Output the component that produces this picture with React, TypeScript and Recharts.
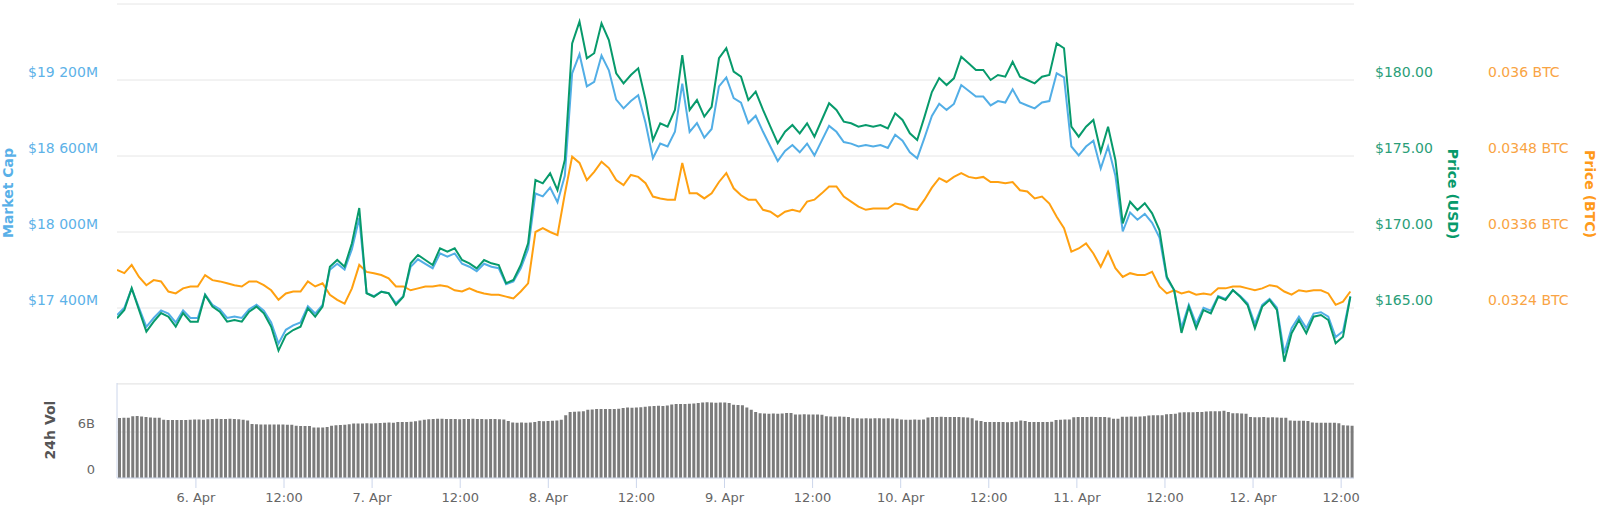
import { LineChart, Line, BarChart, Bar, XAxis, YAxis, CartesianGrid } from 'recharts'

// Hours counted from 5 Apr 00:00; the view runs from ~13:15 on 5 Apr to ~13:45 on 12 Apr.
const START = 13.25
const END = 181.75

const TIME_TICKS = [24, 36, 48, 60, 72, 84, 96, 108, 120, 132, 144, 156, 168, 180]
const TIME_LABELS = [
  '6. Apr', '12:00', '7. Apr', '12:00', '8. Apr', '12:00', '9. Apr',
  '12:00', '10. Apr', '12:00', '11. Apr', '12:00', '12. Apr', '12:00',
]

const CAP_TICKS = [16800, 17400, 18000, 18600, 19200, 19800]
const USD_TICKS = [160, 165, 170, 175, 180, 185]
const BTC_TICKS = [0.0312, 0.0324, 0.0336, 0.0348, 0.036, 0.0372]
const VOL_TICKS = [0, 6]

// hourly samples
const priceUsd = [
  164.32, 164.87, 166.3, 164.87, 163.44, 164.1, 164.67, 164.43, 163.77, 164.67,
  164.1, 164.1, 165.86, 165.09, 164.76, 164.1, 164.21, 164.1, 164.76, 165.09,
  164.65, 163.77, 162.2, 163.22, 163.55, 163.77, 164.98, 164.43, 165.09, 167.72,
  168.16, 167.72, 169.26, 171.58, 165.97, 165.74, 166.07, 165.97, 165.2, 165.74,
  167.94, 168.49, 168.16, 167.83, 168.93, 168.7, 168.93, 168.16, 167.94, 167.61,
  168.16, 167.94, 167.83, 166.63, 166.84, 167.83, 169.26, 173.42, 173.2, 173.86,
  172.76, 174.74, 182.41, 183.84, 181.43, 181.76, 183.73, 182.63, 180.44, 179.78,
  180.33, 180.77, 178.68, 176.05, 177.15, 176.93, 178.03, 181.64, 178.03, 178.68,
  177.59, 178.24, 181.43, 182.09, 180.55, 180.22, 178.68, 179.23, 178.03, 176.93,
  175.84, 176.6, 177.04, 176.49, 177.15, 176.27, 177.37, 178.47, 178.03, 177.26,
  177.15, 176.93, 177.04, 176.93, 177.04, 176.82, 177.81, 177.37, 176.49, 176.05,
  177.59, 179.21, 180.13, 179.67, 180.11, 181.53, 181.1, 180.66, 180.66, 180.0,
  180.33, 180.22, 181.2, 180.22, 180.0, 179.78, 180.22, 180.33, 182.41, 182.09,
  176.93, 176.27, 176.93, 177.37, 175.28, 176.93, 174.74, 170.57, 171.99, 171.45,
  171.89, 171.23, 170.13, 167.06, 166.18, 163.36, 165.09, 163.66, 164.87, 164.65,
  165.74, 165.53, 166.18, 165.74, 165.2, 163.66, 165.09, 165.53, 164.87, 161.47,
  163.34, 164.21, 163.34, 164.43, 164.54, 164.21, 162.68, 163.11, 165.74,
]

// $M
const marketCap = [
  17344, 17402, 17553, 17402, 17251, 17321, 17381, 17356, 17286, 17381,
  17321, 17321, 17507, 17425, 17390, 17321, 17332, 17321, 17390, 17425,
  17379, 17286, 17120, 17228, 17263, 17286, 17414, 17356, 17425, 17703,
  17749, 17703, 17865, 18110, 17518, 17494, 17529, 17518, 17437, 17494,
  17726, 17784, 17749, 17714, 17831, 17806, 17831, 17749, 17726, 17691,
  17749, 17726, 17714, 17588, 17610, 17714, 17865, 18304, 18281, 18351,
  18235, 18444, 19253, 19404, 19150, 19185, 19393, 19277, 19045, 18976,
  19034, 19080, 18860, 18582, 18698, 18675, 18791, 19172, 18791, 18860,
  18745, 18813, 19150, 19220, 19057, 19022, 18860, 18918, 18791, 18675,
  18560, 18640, 18687, 18629, 18698, 18605, 18721, 18838, 18791, 18710,
  18698, 18675, 18687, 18675, 18687, 18663, 18768, 18721, 18629, 18582,
  18745, 18916, 19013, 18964, 19011, 19160, 19115, 19069, 19069, 18999,
  19034, 19022, 19126, 19022, 18999, 18976, 19022, 19034, 19253, 19220,
  18675, 18605, 18675, 18721, 18501, 18675, 18444, 18004, 18154, 18097,
  18143, 18073, 17957, 17633, 17540, 17243, 17425, 17274, 17402, 17379,
  17494, 17472, 17540, 17494, 17437, 17274, 17425, 17472, 17402, 17043,
  17241, 17332, 17241, 17356, 17367, 17332, 17171, 17216, 17494,
]

const priceBtc = [
  0.033, 0.03295, 0.03308, 0.03289, 0.03276, 0.03284, 0.03282, 0.03266, 0.03263, 0.03271,
  0.03274, 0.03274, 0.03292, 0.03284, 0.03282, 0.03279, 0.03276, 0.03274, 0.03282, 0.03282,
  0.03276, 0.03268, 0.03253, 0.03263, 0.03266, 0.03266, 0.03282, 0.03274, 0.03279, 0.03261,
  0.03253, 0.03247, 0.03271, 0.03308, 0.03297, 0.03295, 0.03292, 0.03287, 0.03274, 0.03274,
  0.03268, 0.03271, 0.03274, 0.03274, 0.03276, 0.03274, 0.03268, 0.03266, 0.03271, 0.03266,
  0.03263, 0.03261, 0.03261, 0.03258, 0.03255, 0.03266, 0.03279, 0.0336, 0.03366, 0.0336,
  0.03355, 0.0342, 0.03479, 0.03469, 0.03442, 0.03455, 0.03471, 0.03461, 0.03442, 0.03434,
  0.0345, 0.03447, 0.03437, 0.03416, 0.03413, 0.03411, 0.03411, 0.03469, 0.03421, 0.03421,
  0.03413, 0.03421, 0.03439, 0.03453, 0.03429, 0.03418, 0.03411, 0.03411, 0.03395, 0.03392,
  0.03384, 0.03392, 0.03395, 0.03392, 0.03408, 0.03411, 0.03421, 0.03432, 0.03432, 0.03416,
  0.03408, 0.034, 0.03395, 0.03397, 0.03397, 0.03397, 0.03405, 0.03403, 0.03397, 0.03395,
  0.03411, 0.0343, 0.03445, 0.03439, 0.03447, 0.03453, 0.03447, 0.03445, 0.03447, 0.03439,
  0.03439, 0.03437, 0.03439, 0.03426, 0.03424, 0.03413, 0.03416, 0.03405, 0.03384, 0.03366,
  0.03329, 0.03334, 0.03342, 0.03326, 0.03305, 0.03329, 0.03303, 0.03289, 0.03295, 0.03292,
  0.03292, 0.03297, 0.03274, 0.03263, 0.03268, 0.03263, 0.03266, 0.03261, 0.03263, 0.03261,
  0.03271, 0.03271, 0.03274, 0.03274, 0.03271, 0.03268, 0.03271, 0.03276, 0.03274, 0.03266,
  0.03261, 0.03268, 0.03266, 0.03268, 0.03268, 0.03263, 0.03245, 0.0325, 0.03266,
]

// 24h volume, billions of USD
const volume = [
  7.83, 7.85, 7.86, 8.05, 8.1, 8.02, 7.95, 7.9, 7.88, 7.85,
  7.6, 7.58, 7.57, 7.56, 7.57, 7.58, 7.6, 7.62, 7.62, 7.6,
  7.68, 7.7, 7.72, 7.7, 7.7, 7.72, 7.7, 7.68, 7.6, 7.5,
  7.05, 7.0, 6.98, 6.98, 6.98, 6.98, 6.98, 6.97, 6.96, 6.95,
  6.82, 6.8, 6.8, 6.78, 6.6, 6.58, 6.6, 6.65, 6.82, 6.9,
  6.92, 6.95, 7.0, 7.1, 7.1, 7.12, 7.15, 7.12, 7.15, 7.18,
  7.2, 7.25, 7.22, 7.3, 7.3, 7.32, 7.35, 7.4, 7.5, 7.6,
  7.68, 7.7, 7.72, 7.72, 7.7, 7.7, 7.7, 7.68, 7.7, 7.7,
  7.72, 7.7, 7.7, 7.68, 7.7, 7.7, 7.66, 7.62, 7.45, 7.25,
  7.22, 7.24, 7.22, 7.25, 7.3, 7.45, 7.4, 7.44, 7.46, 7.5,
  7.6, 8.2, 8.6, 8.65, 8.68, 8.7, 8.9, 8.95, 9.0, 9.0,
  9.0, 9.02, 9.0, 9.05, 9.15, 9.2, 9.18, 9.2, 9.25, 9.3,
  9.38, 9.4, 9.42, 9.4, 9.45, 9.6, 9.65, 9.66, 9.65, 9.7,
  9.72, 9.8, 9.85, 9.88, 9.85, 9.82, 9.85, 9.86, 9.8, 9.55,
  9.52, 9.5, 9.2, 8.9, 8.6, 8.45, 8.42, 8.4, 8.42, 8.4,
  8.42, 8.48, 8.5, 8.3, 8.28, 8.32, 8.3, 8.28, 8.3, 8.25,
  8.05, 8.02, 8.0, 8.02, 8.0, 7.95, 7.8, 7.8, 7.78, 7.8,
  7.78, 7.8, 7.8, 7.78, 7.8, 7.78, 7.75, 7.62, 7.6, 7.6,
  7.62, 7.6, 7.65, 7.9, 7.95, 7.96, 7.98, 7.96, 7.95, 7.96,
  7.95, 7.92, 7.9, 7.8, 7.5, 7.45, 7.32, 7.3, 7.3, 7.32,
  7.3, 7.28, 7.3, 7.35, 7.5, 7.45, 7.32, 7.3, 7.3, 7.32,
  7.3, 7.35, 7.58, 7.6, 7.62, 7.65, 7.92, 7.95, 7.96, 7.95,
  7.98, 7.96, 7.95, 7.96, 7.9, 7.75, 7.72, 7.98, 8.0, 8.02,
  8.0, 8.02, 8.05, 8.15, 8.18, 8.2, 8.2, 8.32, 8.35, 8.38,
  8.55, 8.57, 8.58, 8.57, 8.6, 8.6, 8.68, 8.7, 8.7, 8.72,
  8.78, 8.6, 8.45, 8.44, 8.42, 8.4, 7.95, 7.92, 7.92, 7.95,
  7.9, 7.92, 7.9, 7.88, 7.85, 7.5, 7.48, 7.48, 7.46, 7.45,
  7.25, 7.22, 7.22, 7.2, 7.22, 7.2, 7.15, 6.9, 6.85, 6.82,
]

const BLUE = '#52aee6'
const GREEN = '#079a6b'
const ORANGE = '#ffa010'
const AXIS_LINE = '#ccd6eb'
const GRID = '#e6e6e6'
const FONT = '"DejaVu Sans", Verdana, sans-serif'

const priceData = priceUsd.map((usd, i) => ({
  h: START + i,
  usd,
  cap: marketCap[i],
  btc: priceBtc[i],
}))

const VOL_STEP = (END - START) / volume.length
const volumeData = volume.map((v, k) => ({ h: START + (k + 0.5) * VOL_STEP, v }))

type TickProps = { x?: number; y?: number; payload?: { value: number } }

const formatCap = (v: number) => {
  const s = String(v)
  return `$${s.slice(0, -3)} ${s.slice(-3)}M`
}

function CapTick({ y = 0, payload }: TickProps) {
  if (!payload || payload.value === CAP_TICKS[CAP_TICKS.length - 1]) return <g />
  return (
    <text x={98} y={y - 3} textAnchor="end" fill="#5db2e8" fontSize={14} fontFamily={FONT}>
      {formatCap(payload.value)}
    </text>
  )
}

function UsdTick({ y = 0, payload }: TickProps) {
  if (!payload || payload.value === USD_TICKS[USD_TICKS.length - 1]) return <g />
  return (
    <text x={1375} y={y - 3} textAnchor="start" fill="#2a9e78" fontSize={14} fontFamily={FONT}>
      {`$${payload.value.toFixed(2)}`}
    </text>
  )
}

function BtcTick({ y = 0, payload }: TickProps) {
  if (!payload || payload.value === BTC_TICKS[BTC_TICKS.length - 1]) return <g />
  return (
    <text x={1488} y={y - 3} textAnchor="start" fill="#f9a443" fontSize={14} fontFamily={FONT}>
      {`${parseFloat(payload.value.toFixed(4))} BTC`}
    </text>
  )
}

function VolTick({ y = 0, payload }: TickProps) {
  if (!payload) return <g />
  return (
    <text x={95} y={y - 4} textAnchor="end" fill="#666666" fontSize={13} fontFamily={FONT}>
      {payload.value === 0 ? '0' : `${payload.value}B`}
    </text>
  )
}

function TimeTick({ x = 0, payload }: TickProps) {
  if (!payload) return <g />
  const idx = TIME_TICKS.indexOf(payload.value)
  return (
    <text x={x} y={119} textAnchor="middle" fill="#666666" fontSize={13} fontFamily={FONT}>
      {TIME_LABELS[idx]}
    </text>
  )
}

function PriceChart() {
  return (
    <LineChart width={1600} height={390} data={priceData} margin={{ top: 4, right: 0, bottom: 6, left: 0 }}>
      <CartesianGrid yAxisId="cap" horizontal vertical={false} stroke={GRID} />
      <XAxis type="number" dataKey="h" domain={[START, END]} allowDataOverflow hide />
      <YAxis
        yAxisId="cap"
        width={117}
        domain={[CAP_TICKS[0], CAP_TICKS[CAP_TICKS.length - 1]]}
        ticks={CAP_TICKS}
        axisLine={false}
        tickLine={false}
        tick={(p: TickProps) => <CapTick {...p} />}
      />
      <YAxis
        yAxisId="usd"
        orientation="right"
        width={130}
        domain={[USD_TICKS[0], USD_TICKS[USD_TICKS.length - 1]]}
        ticks={USD_TICKS}
        axisLine={false}
        tickLine={false}
        tick={(p: TickProps) => <UsdTick {...p} />}
      />
      <YAxis
        yAxisId="btc"
        orientation="right"
        width={116}
        domain={[BTC_TICKS[0], BTC_TICKS[BTC_TICKS.length - 1]]}
        ticks={BTC_TICKS}
        axisLine={false}
        tickLine={false}
        tick={(p: TickProps) => <BtcTick {...p} />}
      />
      <Line yAxisId="btc" type="linear" dataKey="btc" stroke={ORANGE} strokeWidth={2} dot={false} isAnimationActive={false} />
      <Line yAxisId="cap" type="linear" dataKey="cap" stroke={BLUE} strokeWidth={2} dot={false} isAnimationActive={false} />
      <Line yAxisId="usd" type="linear" dataKey="usd" stroke={GREEN} strokeWidth={2} dot={false} isAnimationActive={false} />
    </LineChart>
  )
}

function VolumeChart() {
  return (
    <BarChart width={1600} height={124} data={volumeData} margin={{ top: 0, right: 246, bottom: 0, left: 0 }}>
      <CartesianGrid horizontal vertical={false} stroke={GRID} />
      <XAxis
        type="number"
        dataKey="h"
        domain={[START, END]}
        allowDataOverflow
        ticks={TIME_TICKS}
        height={29}
        tickSize={10}
        axisLine={{ stroke: AXIS_LINE }}
        tickLine={{ stroke: AXIS_LINE }}
        tick={(p: TickProps) => <TimeTick {...p} />}
      />
      <YAxis
        width={117}
        domain={[0, 12.4]}
        ticks={VOL_TICKS}
        axisLine={{ stroke: AXIS_LINE }}
        tickLine={false}
        tick={(p: TickProps) => <VolTick {...p} />}
      />
      <Bar dataKey="v" fill="#7b7b7b" barSize={3} isAnimationActive={false} />
    </BarChart>
  )
}

export default function App() {
  return (
    <div style={{ position: 'relative', width: 1600, height: 507, background: '#fff', overflow: 'hidden' }}>
      <style>{'body { margin: 0; }'}</style>
      <div style={{ position: 'absolute', left: 0, top: 0 }}>
        <PriceChart />
      </div>
      <div style={{ position: 'absolute', left: 0, top: 383 }}>
        <VolumeChart />
      </div>
      <svg width={1600} height={507} style={{ position: 'absolute', left: 0, top: 0, pointerEvents: 'none' }}>
        <g fontFamily={FONT} fontSize={14} fontWeight="bold" textAnchor="middle">
          <text transform="translate(13,193) rotate(-90)" fill="#58b0e8">Market Cap</text>
          <text transform="translate(54.5,430) rotate(-90)" fill="#555555">24h Vol</text>
          <text transform="translate(1448,194) rotate(90)" fill={GREEN}>Price (USD)</text>
          <text transform="translate(1585,194) rotate(90)" fill="#ff9a1a">Price (BTC)</text>
        </g>
      </svg>
    </div>
  )
}
